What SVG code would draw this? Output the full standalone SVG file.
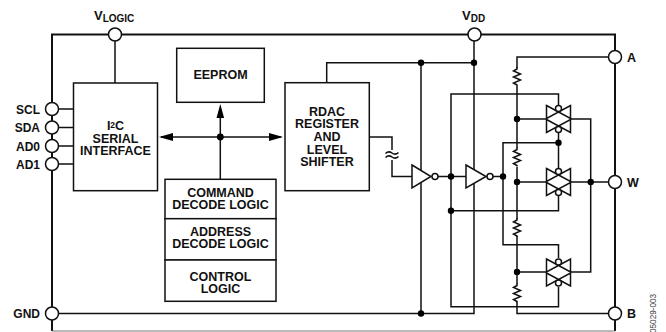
<svg xmlns="http://www.w3.org/2000/svg" width="666" height="332" viewBox="0 0 666 332">
<style>
text{font-family:"Liberation Sans",Arial,sans-serif;font-weight:bold;font-size:12.5px;fill:#111;text-anchor:middle}
.l{text-anchor:end;font-size:12px}.s{text-anchor:start;font-size:12.5px}
.v{font-size:13px}
.sub{font-size:10px}
.w{fill:none;stroke:#111;stroke-width:1.5}
.o{fill:none;stroke:#111;stroke-width:2}
.b{fill:#fff;stroke:#111;stroke-width:1.5}
.p{fill:#fff;stroke:#111;stroke-width:1.5}
.d{fill:#000;stroke:none}
.h{fill:#000;stroke:none}
</style>
<defs>
<g id="res"><path class="w" d="M0 0 v2 l-3.5 2 7 3 -7 3 7 3 -7 3 3.5 2 v1"/></g>
<g id="tg">
<path class="b" d="M-12 -13.5 L12 -0.5 V-13.5 L-12 -0.5 Z"/>
<path class="b" d="M-12 0.5 L12 13.5 V0.5 L-12 13.5 Z"/>
<circle class="p" cx="0" cy="-10.5" r="3"/>
<circle class="p" cx="0" cy="10.5" r="3"/>
</g>
</defs>
<g id="connectors">
<path class="o" d="M52 331V34.5H615V331"/>
<path d="M52 331H615" fill="none" stroke="#777" stroke-width="1"/>
<path class="w" d="M52 313.5H474V34.5M115 34.5V83M58 109H73.5M58 127.5H73.5M58 146H73.5M58 164H73.5"/>
<path class="w" d="M326.7 82.7V62.7H474M421 62.7V313.5"/>
<path class="w" d="M161 137H281M220.3 179.3V112"/>
<path class="w" d="M369.3 137H392V150M392 160V176.5H412"/>
<path class="w" d="M385.5 153.5q3.2 -3 6.5 -0.5t6.5 -0.5M385.5 157.5q3.2 -3 6.5 -0.5t6.5 -0.5"/>
<path class="w" d="M438 176.5H466M493 176.5H503"/>
<path class="w" d="M451 176.5V94H558.5V105M451 176.5V306.7H558.5V287M451 210.7H558.5V196"/>
<path class="w" d="M503 176.5V142.7H558.5M558.5 133V168M503 176.5V244.7H558.5V258"/>
<path class="w" d="M615 57H517V68M517 86V148M517 167V219M517 236V284M517 302V313.5H609"/>
<path class="w" d="M517 119H546M517 182H546M517 272H546M571 182H609M571 119H590.7V272H571"/>
<path class="h" d="M159 137L173 133V141ZM283 137L269 133V141ZM220.3 104L216.5 118H224.1Z"/>
<circle class="d" cx="220.3" cy="137" r="3.4"/>
<circle class="d" cx="421" cy="62.7" r="3.2"/><circle class="d" cx="474" cy="62.7" r="3.2"/>
<circle class="d" cx="421" cy="313.5" r="3.2"/>
<circle class="d" cx="451" cy="176.5" r="3.2"/><circle class="d" cx="503" cy="176.5" r="3.2"/>
<circle class="d" cx="451" cy="210.7" r="3.2"/><circle class="d" cx="558.5" cy="142.7" r="3.2"/>
<circle class="d" cx="517" cy="119" r="3.2"/><circle class="d" cx="517" cy="182" r="3.2"/><circle class="d" cx="517" cy="272" r="3.2"/>
<circle class="d" cx="590.7" cy="182" r="3.2"/>
</g>
<g id="res1"><use href="#res" x="517" y="67"/></g>
<g id="res2"><use href="#res" x="517" y="147.5"/></g>
<g id="res3"><use href="#res" x="517" y="218"/></g>
<g id="res4"><use href="#res" x="517" y="283.5"/></g>
<g id="inv1"><path class="b" d="M412 165L431 176.5L412 188Z"/><circle class="p" cx="435" cy="176.5" r="3"/></g>
<g id="inv2"><path class="b" d="M466 165L486 176.5L466 188Z"/><circle class="p" cx="490" cy="176.5" r="3"/></g>
<g id="tg1"><use href="#tg" x="558.5" y="119"/></g>
<g id="tg2"><use href="#tg" x="558.5" y="182"/></g>
<g id="tg3"><use href="#tg" x="558.5" y="272.5"/></g>
<g id="vlogic"><circle class="p" cx="115" cy="34.5" r="6.5"/><text x="94" y="19.5" class="s v">V<tspan class="sub" dy="2.5">LOGIC</tspan></text></g>
<g id="vdd"><circle class="p" cx="474.5" cy="34.5" r="6.5"/><text x="462" y="19.5" class="s v">V<tspan class="sub" dy="2.5">DD</tspan></text></g>
<g id="pinA"><circle class="p" cx="615" cy="57" r="6.5"/><text x="627" y="61.5" class="s">A</text></g>
<g id="pinW"><circle class="p" cx="615" cy="182" r="6.5"/><text x="627" y="186.5" class="s">W</text></g>
<g id="pinB"><circle class="p" cx="615" cy="313.5" r="6.5"/><text x="627" y="318" class="s">B</text></g>
<g id="pinSCL"><circle class="p" cx="52" cy="109" r="6.5"/><text x="40" y="113.5" class="l">SCL</text></g>
<g id="pinSDA"><circle class="p" cx="52" cy="127.5" r="6.5"/><text x="40" y="132" class="l">SDA</text></g>
<g id="pinAD0"><circle class="p" cx="52" cy="146" r="6.5"/><text x="40" y="150.5" class="l">AD0</text></g>
<g id="pinAD1"><circle class="p" cx="52" cy="164" r="6.5"/><text x="40" y="168.5" class="l">AD1</text></g>
<g id="pinGND"><circle class="p" cx="52" cy="313.5" r="6.5"/><text x="40" y="318" class="l">GND</text></g>
<g id="i2c"><rect class="b" x="73.5" y="83" width="84" height="107.7"/>
<text x="115.5" y="130">I<tspan font-size="8.5" dy="-2.5">2</tspan><tspan dy="2.5">C</tspan></text><text x="115.5" y="143">SERIAL</text><text x="115.5" y="155">INTERFACE</text></g>
<g id="eeprom"><rect class="b" x="176.7" y="48.3" width="87.6" height="54"/><text x="220.5" y="79">EEPROM</text></g>
<g id="rdac"><rect class="b" x="285" y="82.7" width="84.3" height="108"/>
<text x="327" y="116">RDAC</text><text x="327" y="128">REGISTER</text><text x="327" y="141">AND</text><text x="327" y="154">LEVEL</text><text x="327" y="166">SHIFTER</text></g>
<g id="command"><rect class="b" x="165" y="179.3" width="111" height="39.4"/><text x="220.5" y="197">COMMAND</text><text x="220.5" y="209">DECODE LOGIC</text></g>
<g id="address"><rect class="b" x="165" y="218.7" width="111" height="41.3"/><text x="220.5" y="236">ADDRESS</text><text x="220.5" y="248">DECODE LOGIC</text></g>
<g id="control"><rect class="b" x="165" y="260" width="111" height="41.3"/><text x="220.5" y="281">CONTROL</text><text x="220.5" y="293">LOGIC</text></g>
<text transform="translate(656 333) rotate(-90)" style="text-anchor:start;font-weight:normal;font-size:8.2px;fill:#444">05029-003</text>
</svg>
